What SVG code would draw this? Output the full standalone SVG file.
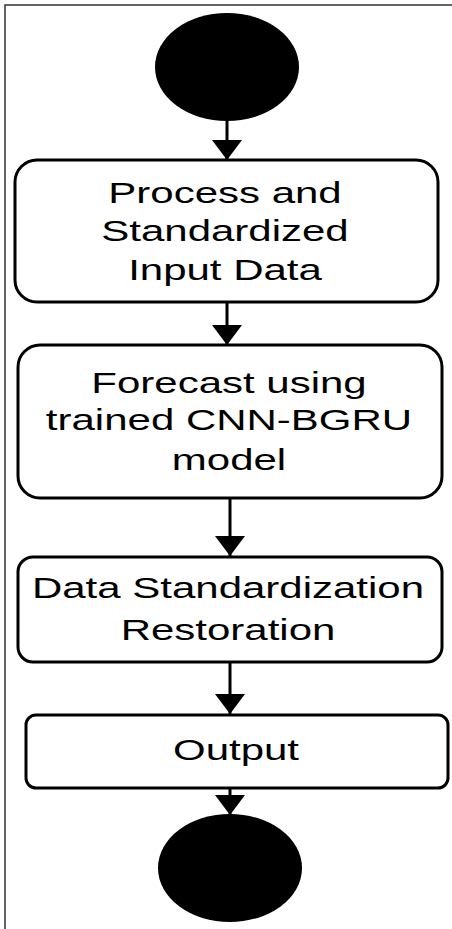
<svg xmlns="http://www.w3.org/2000/svg" width="452" height="929" viewBox="0 0 452 929">
<defs>
<style>
.box{fill:#fff;stroke:#000;stroke-width:3}
.term{fill:#000}
.lbl{font-family:"Liberation Sans",Arial,sans-serif;font-size:30px;fill:#000;text-anchor:middle}
.conn{stroke:#000;stroke-width:3;fill:none}
</style>
<marker id="ah" markerUnits="userSpaceOnUse" markerWidth="20" markerHeight="30" refX="20" refY="15" orient="auto" viewBox="0 0 20 30">
<path d="M0,0 L20,15 L0,30 z" fill="#000"/>
</marker>
</defs>
<rect x="0" y="0" width="452" height="929" fill="#fff"/>
<rect x="5" y="5" width="470" height="940" fill="none" stroke="#333" stroke-width="1.5"/>
<g id="start"><ellipse class="term" cx="227" cy="67" rx="72" ry="54"/></g>
<g id="n1">
<rect class="box" x="15" y="160" width="423" height="142" rx="22"/>
<g transform="translate(225,0) scale(1.4,1)">
<text class="lbl" x="0" y="203">Process and</text>
<text class="lbl" x="0" y="241">Standardized</text>
<text class="lbl" x="0" y="280">Input Data</text>
</g>
</g>
<g id="n2">
<rect class="box" x="18" y="345" width="424" height="153" rx="22"/>
<g transform="translate(229,0) scale(1.4,1)">
<text class="lbl" x="0" y="393">Forecast using</text>
<text class="lbl" x="0" y="430">trained CNN-BGRU</text>
<text class="lbl" x="0" y="470">model</text>
</g>
</g>
<g id="n3">
<rect class="box" x="18" y="557" width="424" height="105" rx="15"/>
<g transform="translate(228,0) scale(1.4,1)">
<text class="lbl" x="0" y="598">Data Standardization</text>
<text class="lbl" x="0" y="640">Restoration</text>
</g>
</g>
<g id="n4">
<rect class="box" x="26" y="715" width="422" height="73" rx="10"/>
<g transform="translate(236,0) scale(1.4,1)">
<text class="lbl" x="0" y="760">Output</text>
</g>
</g>
<g id="end"><ellipse class="term" cx="230" cy="868" rx="72" ry="54"/></g>
<g id="connectors">
<line class="conn" x1="227" y1="121" x2="227" y2="160" marker-end="url(#ah)"/>
<line class="conn" x1="227" y1="302" x2="227" y2="345" marker-end="url(#ah)"/>
<line class="conn" x1="230" y1="498" x2="230" y2="556" marker-end="url(#ah)"/>
<line class="conn" x1="230" y1="662" x2="230" y2="714" marker-end="url(#ah)"/>
<line class="conn" x1="230" y1="788" x2="230" y2="815" marker-end="url(#ah)"/>
</g>
</svg>
